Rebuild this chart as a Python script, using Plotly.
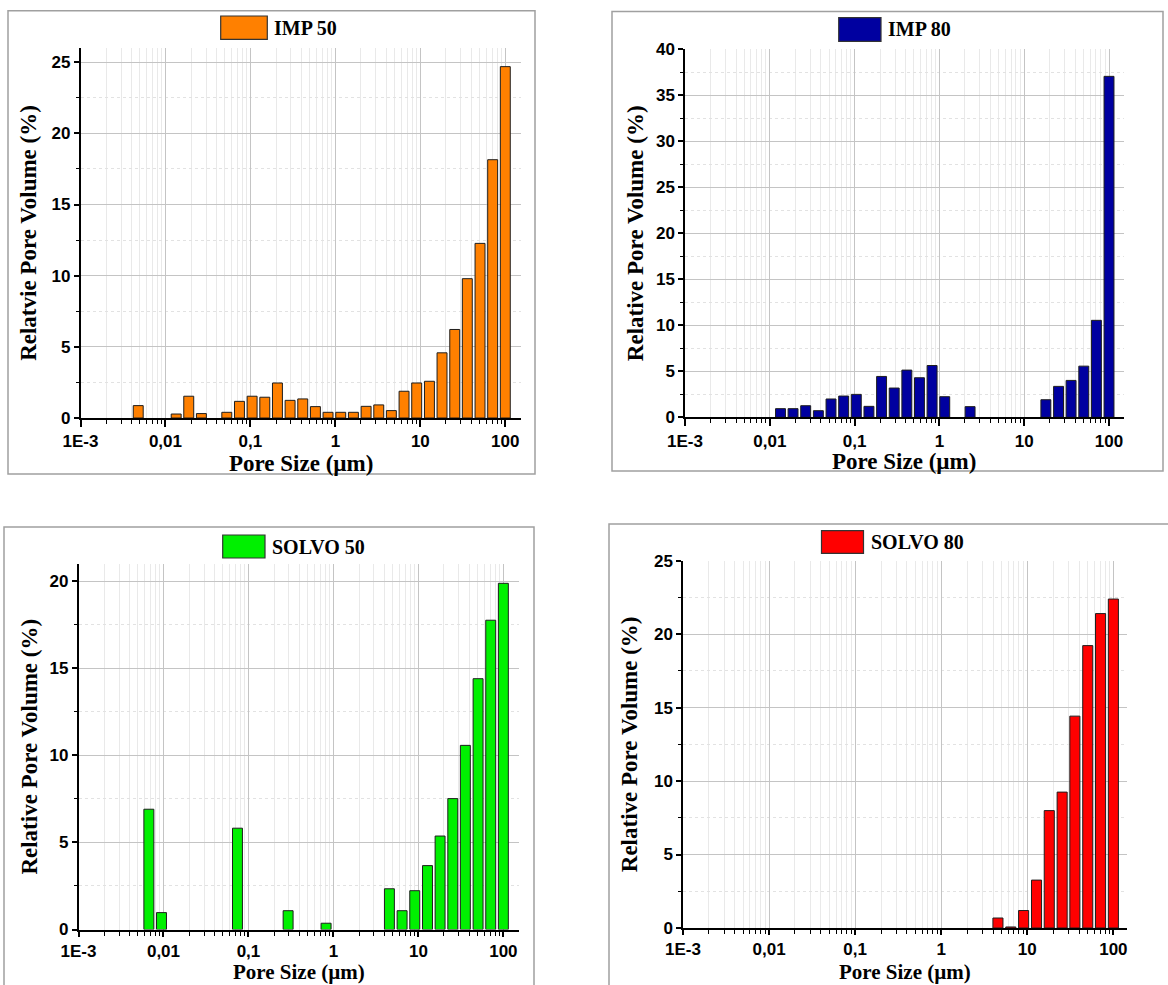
import numpy as np
import plotly.graph_objects as go

# ---------------- data ----------------
pore_size_um = [0.00478, 0.00673, 0.00948, 0.01337, 0.0188, 0.0265, 0.0374, 0.0527, 0.0743, 0.1047,
                0.1476, 0.208, 0.293, 0.413, 0.582, 0.820, 1.156, 1.63, 2.30, 3.24,
                4.56, 6.43, 9.06, 12.8, 18.0, 25.4, 35.7, 50.4, 71.0, 100.0]

imp_50 = [0.87, None, None, 0.28, 1.53, 0.31, None, 0.40, 1.17, 1.53,
          1.46, 2.46, 1.24, 1.34, 0.80, 0.40, 0.40, 0.40, 0.82, 0.92,
          0.52, 1.88, 2.46, 2.58, 4.58, 6.22, 9.79, 12.27, 18.15, 24.69]

imp_80 = [None, None, None, 0.94, 0.94, 1.26, 0.72, 1.99, 2.31, 2.49,
          1.19, 4.44, 3.18, 5.13, 4.30, 5.63, 2.24, None, 1.16, None,
          None, None, None, None, 1.91, 3.36, 4.01, 5.56, 10.54, 37.06]

solvo_50 = [None, 6.91, 0.97, None, None, None, None, None, 5.82, None,
            None, None, 1.08, None, None, 0.36, None, None, None, None,
            2.34, 1.08, 2.23, 3.67, 5.37, 7.52, 10.58, 14.41, 17.77, 19.89]

solvo_80 = [None, None, None, None, None, None, None, None, None, None,
            None, None, None, None, None, None, None, None, None, None,
            0.68, 0.07, 1.19, 3.26, 7.99, 9.25, 14.42, 19.22, 21.40, 22.39]

series_names = ["IMP 50", "IMP 80", "SOLVO 50", "SOLVO 80"]
series_values = [imp_50, imp_80, solvo_50, solvo_80]
y_titles = ["Relatvie Pore Volume (%)", "Relative Pore Volume (%)",
            "Relative Pore Volume (%)", "Relative Pore Volume (%)"]
x_title = "Pore Size (µm)"
x_tick_vals = [0.001, 0.01, 0.1, 1, 10, 100]
x_tick_text = ["1E-3", "0,01", "0,1", "1", "10", "100"]

# ---------------- layout / style ----------------
W, H = 1168, 985
colors = ["#FF8000", "#0000A0", "#00F000", "#FF0000"]
y_ranges = [[0, 26], [0, 40], [0, 21], [0, 25]]
x_max = [2.18, 2.172, 2.184, 2.163]          # right end of each x axis, in decades
# plot areas in pixels: (left, top, right, bottom)
areas = [(80.5, 48, 520.6, 418), (685, 49.3, 1123.6, 417.3),
         (78.5, 564, 519, 929.5), (683, 560.7, 1127.4, 928)]
frames = [(8, 10.7, 535, 474), (612, 11.5, 1163, 471),
          (4, 527, 534, 1005), (609, 524, 1180, 1005)]
swatches = [(220.7, 16, 267.3, 39.3), (838.7, 17.7, 881, 41.3),
            (222.7, 535, 265, 558), (821.5, 530.7, 863.5, 553.3)]
y_title_standoff = [8, 6, 5, 10]
x_ticklen = [7, 7, 5, 5]
# x-axis title text box: (edge px, anchor, font size)
x_title_box = [(450, "top", 23), (448, "top", 23), (985, "bottom", 21), (985, "bottom", 21)]


def px(x):
    return x / W


def py(y):
    return 1 - y / H


tick_font = dict(family="Liberation Sans, Arial", size=17, color="black", weight="bold")
title_font = dict(family="Liberation Serif, Times New Roman", size=23, color="black", weight="bold")
legend_font = dict(family="Liberation Serif, Times New Roman", size=20, color="black", weight="bold")

# logarithmic pore-size axis: positions expressed in decades
log_x = np.log10(np.array(pore_size_um))
major_pos = list(np.log10(x_tick_vals))
minor_pos = [float(np.log10(m * 10.0 ** e)) for e in range(-3, 2) for m in range(2, 10)]

fig = go.Figure()
shapes = []
annotations = []
for i in range(4):
    n = i + 1
    sx = "" if n == 1 else str(n)
    l, t, r, b = areas[i]
    xdom = [px(l), px(r)]
    ydom = [py(b), py(t)]

    fig.add_trace(go.Bar(
        x=log_x, y=series_values[i], name=series_names[i],
        xaxis=f"x{sx}", yaxis=f"y{sx}",
        width=0.117,
        marker=dict(color=colors[i], line=dict(color="#1e1e1e", width=1)),
        showlegend=False,
    ))

    fig.layout[f"xaxis{sx}"] = dict(
        domain=xdom, anchor=f"y{sx}", range=[-3, x_max[i]], automargin=False,
        tickmode="array", tickvals=major_pos, ticktext=x_tick_text,
        ticks="outside", ticklen=x_ticklen[i], tickwidth=1.5, tickcolor="black",
        showline=True, linecolor="black", linewidth=2,
        showgrid=True, gridcolor="#c4c4c4", gridwidth=1,
        minor=dict(tickmode="array", tickvals=minor_pos, ticks="outside", ticklen=4,
                   tickwidth=1, tickcolor="black", showgrid=True,
                   gridcolor="#e9e9e9", gridwidth=1),
        zeroline=False, tickfont=tick_font,
    )
    fig.layout[f"yaxis{sx}"] = dict(
        domain=ydom, anchor=f"x{sx}", range=y_ranges[i], automargin=False,
        tick0=0, dtick=5, ticks="outside", ticklen=5, tickwidth=1.5, tickcolor="black",
        showline=True, linecolor="black", linewidth=1.5,
        showgrid=True, gridcolor="#c4c4c4", gridwidth=1,
        minor=dict(dtick=2.5, ticks="outside", ticklen=3, tickwidth=1, tickcolor="black",
                   showgrid=True, gridcolor="#e2e2e2", griddash="dot"),
        zeroline=False, tickfont=tick_font,
        title=dict(text=y_titles[i], font=title_font, standoff=y_title_standoff[i]),
    )

    # x-axis title
    edge, anchor, fsize = x_title_box[i]
    annotations.append(dict(xref="paper", yref="paper", x=(xdom[0] + xdom[1]) / 2,
                            y=py(edge), xanchor="center", yanchor=anchor,
                            showarrow=False, text=x_title, borderpad=0,
                            font=dict(title_font, size=fsize)))

    fl, ft, fr, fb = frames[i]
    shapes.append(dict(type="rect", xref="paper", yref="paper",
                       x0=px(fl), x1=px(fr), y0=py(fb), y1=py(ft),
                       line=dict(color="#a0a0a0", width=1.5), layer="below"))
    sl, st, sr, sb = swatches[i]
    shapes.append(dict(type="rect", xref="paper", yref="paper",
                       x0=px(sl), x1=px(sr), y0=py(sb), y1=py(st),
                       fillcolor=colors[i], line=dict(color="#333333", width=1.2)))
    annotations.append(dict(xref="paper", yref="paper", x=px(sr + 5), y=py((st + sb) / 2),
                            xanchor="left", yanchor="middle", showarrow=False,
                            text=series_names[i], font=legend_font))

fig.update_layout(
    width=W, height=H, margin=dict(l=0, r=0, t=0, b=0, autoexpand=False),
    paper_bgcolor="white", plot_bgcolor="white",
    shapes=shapes, annotations=annotations, showlegend=False,
)

fig.write_html("out.html")
